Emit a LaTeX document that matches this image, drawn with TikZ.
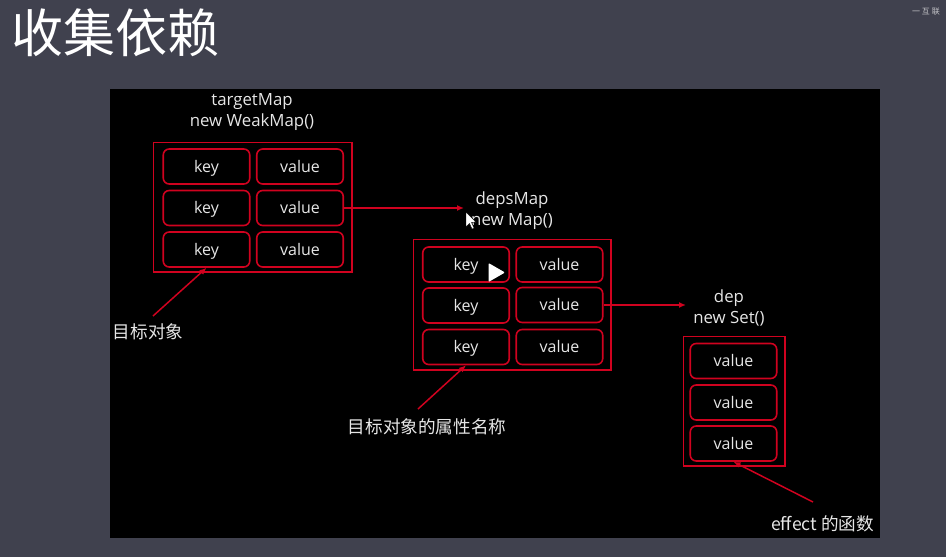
\documentclass[tikz,border=0pt]{standalone}
\usepackage{fontspec}
\setmainfont{Open Sans}
\newfontfamily\cjk{Noto Sans CJK SC}
\definecolor{slide}{HTML}{40414E}
\definecolor{lred}{HTML}{D0021F}
\definecolor{ltext}{HTML}{E6E6E6}
\usetikzlibrary{arrows.meta}
\tikzset{
  cell/.style={draw=lred,line width=1.6pt,rounded corners=6pt,minimum width=86.5pt,minimum height=35pt,inner sep=0pt,text=ltext,text height=12.5pt,text depth=1pt,font=\fontsize{16}{18}\selectfont},
  frame/.style={draw=lred,line width=1.8pt,inner sep=0pt},
  lbl/.style={text=ltext,font=\fontsize{16.8}{21.5}\selectfont,align=center,inner sep=0pt},
  cnlbl/.style={text=ltext,font=\cjk\fontsize{17.6}{20}\selectfont,inner sep=0pt},
  link/.style={draw=lred,line width=1.5pt,-{Latex[length=7pt,width=6pt]}},
}
\begin{document}
\begin{tikzpicture}[x=1pt,y=-1pt]
\useasboundingbox (0,0) rectangle (946,557);
\fill[slide] (0,0) rectangle (946,557);
\fill[black] (110,89) rectangle (880,538);
\node[text=white,font=\cjk\fontsize{52}{56}\selectfont,inner sep=0pt] (title) at (116,33) {收集依赖};
\node[text=white!70!slide,font=\cjk\fontsize{8}{9}\selectfont,anchor=west,inner sep=0pt] (corner) at (912,12) {一 互 联 };
% frames
\node[frame,minimum width=198.4pt,minimum height=129.4pt] (f1) at (252.7,207.2) {};
\node[frame,minimum width=197.4pt,minimum height=130.4pt] (f2) at (512.2,304.7) {};
\node[frame,minimum width=101.4pt,minimum height=129.4pt] (f3) at (734.2,401.2) {};
% table 1
\node[cell] (a1) at (206.5,166.5) {key};
\node[cell] (a2) at (300,166.5) {value};
\node[cell] (b1) at (206.5,208) {key};
\node[cell] (b2) at (300,208) {value};
\node[cell] (c1) at (206.5,249.5) {key};
\node[cell] (c2) at (300,249.5) {value};
% table 2
\node[cell] (d1) at (466,264.5) {key};
\node[cell] (d2) at (559.5,264.5) {value};
\node[cell] (e1) at (466,305.5) {key};
\node[cell] (e2) at (559.5,305) {value};
\node[cell] (g1) at (466,347) {key};
\node[cell] (g2) at (559.5,347) {value};
% table 3
\node[cell] (h1) at (733.5,361) {value};
\node[cell] (h2) at (733.5,402.5) {value};
\node[cell] (h3) at (733.5,443.5) {value};
% labels
\node[lbl] (tm) at (252,112) {targetMap\\new WeakMap()};
\node[lbl] (dm) at (512,210.5) {depsMap\\new Map()};
\node[lbl] (dp) at (729,308) {dep\\new Set()};
\node[cnlbl] (l1) at (148,332) {目标对象};
\node[cnlbl] (l2) at (427,427) {目标对象的属性名称};
\node[cnlbl] (l3) at (822.5,524) {effect 的函数};
% connectors
\coordinate (t1) at (464,208);
\coordinate (t2) at (686,305);
\coordinate (s1) at (153,316);
\coordinate (s2) at (418,409);
\coordinate (s3) at (813,502);
\draw[link] (b2.east) -- (t1);
\draw[link] (e2.east) -- (t2);
\draw[link] (s1) -- (c1.south);
\draw[link] (s2) -- (g1.south);
\draw[link] (s3) -- (h3.south);
% play button and cursor
\fill[white,rounded corners=1pt] (488.5,263) -- (505,272.5) -- (488.5,282) -- cycle;
\fill[white,draw=black,line width=.4pt] (466,212) -- (466,227) -- (469.5,223.5) -- (472,229) -- (474,228) -- (471.5,222.5) -- (476,222) -- cycle;
\end{tikzpicture}
\end{document}
